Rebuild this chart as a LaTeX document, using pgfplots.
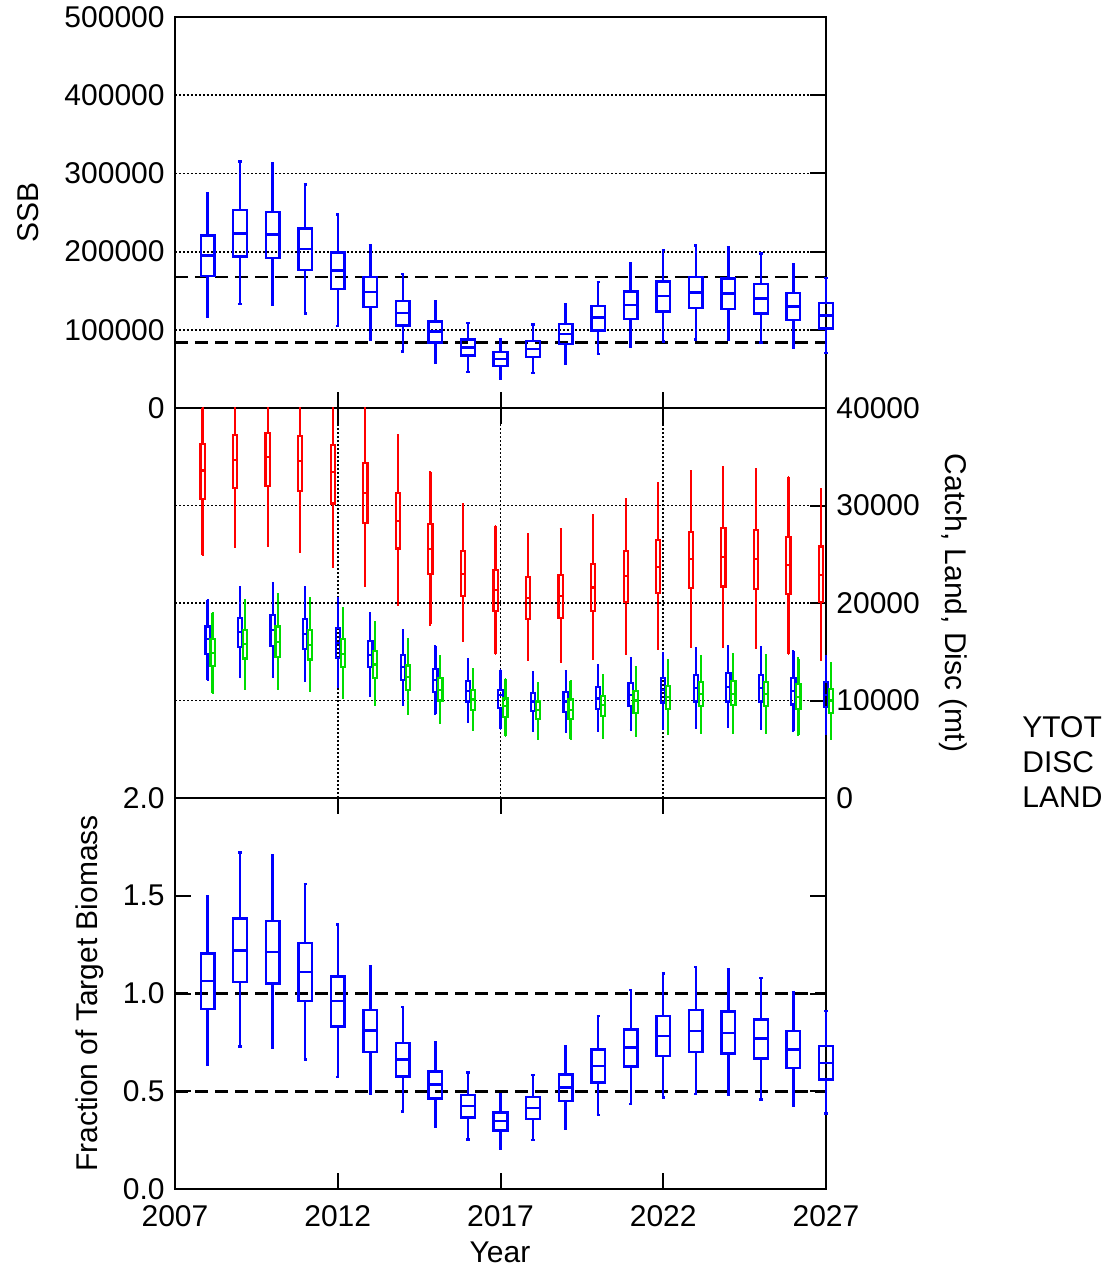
\documentclass[border=0pt]{standalone}
\usepackage{pgfplots}
\usepgfplotslibrary{statistics}
\pgfplotsset{compat=1.18}
\usepackage{pgfplotstable}
\usepackage{fontspec}
\setmainfont{Liberation Sans}
\definecolor{cblue}{RGB}{0,0,255}
\definecolor{cred}{RGB}{255,0,0}
\definecolor{cgreen}{RGB}{0,220,0}

% SSB
\pgfplotstableread{
year lw lq med uq uw
2008 116000 168800 194800 220400 274500
2009 133000 193500 223400 253000 315000
2010 132000 192200 222000 251000 313000
2011 121000 176500 203300 229800 286000
2012 104900 152200 175600 199000 247700
2013 87800 128800 148000 167500 208400
2014 72500 105300 121500 136800 171000
2015 58400 84000 97600 110400 137200
2016 46400 66900 77600 87400 108700
2017 37500 54100 62700 71600 88600
2018 45100 65200 75400 85700 107000
2019 56300 82200 95000 107400 133000
2020 68700 99300 115500 130400 161500
2021 78400 114200 132100 149200 185800
2022 84800 123600 143200 162000 202000
2023 87800 127900 147500 167500 208000
2024 86600 126600 146200 165800 205900
2025 84000 121100 139800 158600 197400
2026 77100 112500 130000 147100 183300
2027 70300 101900 118500 133900 166600
}\ssbtab

% YTOT
\pgfplotstableread{
year lw lq med uq uw
2008 24900 30700 33600 36300 40000
2009 25800 31800 34700 37200 40000
2010 25900 32000 35000 37400 40000
2011 25200 31500 34600 37100 40000
2012 23700 30200 33400 36200 40000
2013 21800 28200 31300 34400 40000
2014 19800 25600 28400 31300 37200
2015 17800 23000 25500 28100 33400
2016 16100 20700 23000 25300 30100
2017 14800 19200 21300 23400 27900
2018 14200 18400 20500 22700 27100
2019 14000 18500 20700 22900 27600
2020 14300 19200 21600 24000 29000
2021 14800 20100 22800 25300 30700
2022 15300 21000 23700 26500 32300
2023 15500 21500 24500 27300 33500
2024 15500 21700 24700 27700 33900
2025 15400 21400 24500 27500 33700
2026 14800 20900 23900 26800 32900
2027 14200 20100 22900 25800 31700
}\ytottab

% DISC
\pgfplotstableread{
year lw lq med uq uw
2008 12100 14800 16300 17600 20300
2009 12400 15500 17000 18500 21600
2010 12400 15600 17200 18800 22000
2011 12000 15300 16800 18400 21600
2012 11400 14400 15900 17400 20500
2013 10500 13400 14700 16100 19000
2014 9500 12100 13400 14700 17200
2015 8600 10900 12100 13200 15600
2016 7800 9900 11000 12000 14200
2017 7100 9200 10600 11100 13100
2018 6900 8900 9900 10800 12900
2019 6800 8800 9900 10900 13000
2020 6900 9100 10200 11400 13600
2021 7000 9400 10600 11800 14300
2022 7100 9800 11100 12300 14900
2023 7200 9900 11300 12600 15400
2024 7300 9900 11400 12800 15600
2025 7100 9900 11300 12600 15500
2026 6900 9600 11000 12300 15100
2027 6600 9300 10600 11900 14600
}\disctab

% LAND
\pgfplotstableread{
year lw lq med uq uw
2008 10800 13500 14900 16300 19000
2009 11200 14300 15800 17200 20300
2010 11200 14500 16000 17600 20900
2011 11000 14200 15700 17200 20500
2012 10300 13400 14800 16300 19500
2013 9500 12300 13700 15100 18000
2014 8600 11100 12400 13600 16300
2015 7700 10000 11100 12300 14600
2016 7000 9000 10100 11100 13200
2017 6400 8300 9400 10200 12200
2018 6100 8100 9000 9900 11800
2019 6100 8100 9000 10100 12000
2020 6200 8400 9500 10500 12600
2021 6400 8700 10000 11000 13400
2022 6600 9100 10400 11500 14100
2023 6700 9400 10700 11900 14600
2024 6700 9500 10700 12000 14800
2025 6700 9400 10700 11900 14700
2026 6500 9100 10400 11700 14300
2027 6100 8700 10000 11200 13800
}\landtab

% Fraction of target biomass
\pgfplotstableread{
year lw lq med uq uw
2008 0.634 0.922 1.063 1.204 1.500
2009 0.728 1.058 1.221 1.384 1.721
2010 0.723 1.051 1.213 1.372 1.707
2011 0.663 0.961 1.109 1.257 1.561
2012 0.573 0.832 0.961 1.088 1.352
2013 0.485 0.702 0.811 0.915 1.139
2014 0.396 0.575 0.663 0.748 0.932
2015 0.320 0.464 0.534 0.602 0.752
2016 0.253 0.366 0.425 0.480 0.595
2017 0.207 0.299 0.347 0.391 0.486
2018 0.250 0.357 0.413 0.471 0.583
2019 0.310 0.449 0.519 0.585 0.730
2020 0.378 0.544 0.629 0.714 0.884
2021 0.434 0.626 0.723 0.816 1.017
2022 0.468 0.680 0.782 0.884 1.102
2023 0.485 0.701 0.808 0.915 1.136
2024 0.480 0.694 0.799 0.907 1.126
2025 0.458 0.667 0.769 0.867 1.078
2026 0.427 0.620 0.714 0.808 1.005
2027 0.386 0.561 0.646 0.731 0.910
}\fractab

% #1 table, #2 row, #3 plot style, #4 draw position
\newcommand{\tabbox}[4]{%
  \pgfplotstablegetelem{#2}{lw}\of{#1}\edef\vlw{\pgfplotsretval}%
  \pgfplotstablegetelem{#2}{lq}\of{#1}\edef\vlq{\pgfplotsretval}%
  \pgfplotstablegetelem{#2}{med}\of{#1}\edef\vmed{\pgfplotsretval}%
  \pgfplotstablegetelem{#2}{uq}\of{#1}\edef\vuq{\pgfplotsretval}%
  \pgfplotstablegetelem{#2}{uw}\of{#1}\edef\vuw{\pgfplotsretval}%
  \edef\next{\noexpand\addplot[#3, boxplot prepared={draw position=#4,
      lower whisker=\vlw, lower quartile=\vlq, median=\vmed,
      upper quartile=\vuq, upper whisker=\vuw}] coordinates {};}%
  \next
}

\pgfplotsset{
  base/.style={
    scale only axis, width=325.5pt,
    xmin=2007, xmax=2027, xtick={2007,2012,2017,2022,2027},
    clip=false,
    axis line style={line width=1pt},
    tick style={black, line width=1pt},
    major tick length=8pt, tick align=inside,
    boxplot/draw direction=y,
    /pgf/number format/assume math mode=true,
    grid style={black, line width=0.9pt, dash pattern=on 0.9pt off 1.1pt},
    scaled y ticks=false,
  },
  refline/.style={black, line width=1.3pt, dash pattern=on 6.5pt off 3.5pt},
  bigbox/.style={solid, line width=1.2pt, boxplot/box extend=0.42, boxplot/whisker extend=0.1},
  smallbox/.style={solid, line width=1.1pt, boxplot/box extend=0.13, boxplot/whisker extend=0.06},
}

\begin{document}
\fontsize{15}{18}\selectfont
\begin{tikzpicture}
% ---------------- top: SSB ----------------
\begin{axis}[base, at={(87.5pt,-204pt)}, anchor=south west, height=195.5pt,
  ymin=0, ymax=500000, ytick={0,100000,200000,300000,400000,500000},
  ymajorgrids,
  xtick pos=bottom, xticklabels={},
  ytick pos=right, yticklabel pos=left,
  yticklabel style={/pgf/number format/fixed, /pgf/number format/1000 sep={}},
  ylabel={SSB},
  y label style={at={(axis description cs:-0.226,0.5)}, anchor=center},
]
\addplot[refline] coordinates {(2007,167500) (2027,167500)};
\addplot[refline] coordinates {(2007,83750) (2027,83750)};
\pgfplotsinvokeforeach{0,...,19}{
  \tabbox{\ssbtab}{#1}{cblue, bigbox}{2008+#1}
}
\end{axis}
% ---------------- middle: catch ----------------
\begin{axis}[base, at={(87.5pt,-399pt)}, anchor=south west, height=195pt,
  ymin=0, ymax=40000, ytick={0,10000,20000,30000,40000},
  ymajorgrids, xmajorgrids,
  xtick pos=top, xticklabels={},
  ytick pos=right, yticklabel pos=right,
  yticklabel style={/pgf/number format/fixed, /pgf/number format/1000 sep={}},
  ylabel={Catch, Land, Disc (mt)},
  y label style={at={(axis description cs:1.195,0.5)}, anchor=center, rotate=180},
]
\pgfplotsinvokeforeach{0,...,19}{
  \tabbox{\ytottab}{#1}{cred, smallbox}{2008+#1-0.153}
  \tabbox{\disctab}{#1}{cblue, smallbox}{2008+#1}
  \tabbox{\landtab}{#1}{cgreen, smallbox}{2008+#1+0.153}
}
\end{axis}
% ---------------- bottom: fraction ----------------
\begin{axis}[base, at={(87.5pt,-594.5pt)}, anchor=south west, height=195.5pt,
  ymin=0, ymax=2, ytick={0,0.5,1,1.5,2},
  xtick pos=both, xticklabel pos=bottom,
  ytick pos=both, yticklabel pos=left,
  yticklabel style={/pgf/number format/fixed, /pgf/number format/fixed zerofill, /pgf/number format/precision=1},
  xticklabel style={/pgf/number format/1000 sep={}, yshift=-3pt},
  xlabel={Year},
  x label style={at={(axis description cs:0.4992,-0.189)}, anchor=base},
  ylabel={Fraction of Target Biomass},
  y label style={at={(axis description cs:-0.1306,0.5)}, anchor=center},
]
\addplot[refline] coordinates {(2007,1) (2027,1)};
\addplot[refline] coordinates {(2007,0.5) (2027,0.5)};
\pgfplotsinvokeforeach{0,...,19}{
  \tabbox{\fractab}{#1}{cblue, bigbox}{2008+#1}
}
\end{axis}
\node[anchor=base west, inner sep=0pt] at (511pt,-368.5pt) {YTOT};
\node[anchor=base west, inner sep=0pt] at (511pt,-386pt) {DISC};
\node[anchor=base west, inner sep=0pt] at (511pt,-403.5pt) {LAND};
\pgfresetboundingbox
\useasboundingbox (0,0) rectangle (552pt,-634.5pt);
\end{tikzpicture}
\end{document}
